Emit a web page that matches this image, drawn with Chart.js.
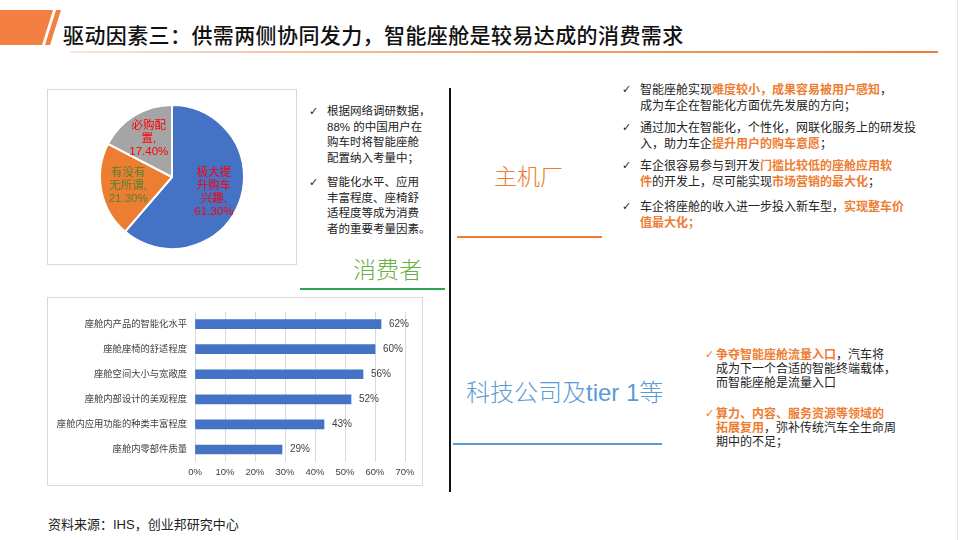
<!DOCTYPE html>
<html>
<head>
<meta charset="utf-8">
<script src="https://cdn.jsdelivr.net/npm/chart.js@4.4.1/dist/chart.umd.min.js"></script>
<style>
  html,body{margin:0;padding:0;background:#fff;}
  body{width:960px;height:540px;position:relative;overflow:hidden;
       font-family:"Liberation Sans","Noto Sans CJK SC",sans-serif;color:#222;}
  .abs{position:absolute;}
  .shape1{left:0;top:10px;width:60px;height:35px;background:#F47F43;
          clip-path:polygon(0 0,53px 0,42px 100%,0 100%);}
  .shape2{left:0;top:10px;width:70px;height:35px;background:#F47F43;
          clip-path:polygon(56px 0,61px 0,50px 100%,45px 100%);}
  .title{left:63px;top:22px;font-size:21px;letter-spacing:0.4px;line-height:28px;font-weight:500;color:#111;white-space:nowrap;}
  .tline{left:70px;top:51px;width:868px;height:2px;
         background:linear-gradient(to right,#FCE6D8,#F3A877 45%,#ED7D31);}
  .box{border:1px solid #D9D9D9;box-sizing:border-box;}
  .txt{white-space:nowrap;font-size:12px;color:#222;}
  .chk{font-family:"DejaVu Sans",sans-serif;font-size:11px;}
  .hl{color:#ED7D31;font-weight:bold;}
  .big{white-space:nowrap;font-weight:300;}
</style>
</head>
<body>
<div class="abs shape1"></div>
<div class="abs shape2"></div>
<div class="abs title">驱动因素三：供需两侧协同发力，智能座舱是较易达成的消费需求</div>
<div class="abs tline"></div>
<div class="abs" style="left:957px;top:0;width:1px;height:540px;background:#E6E6E6;"></div>

<!-- pie box -->
<div class="abs box" style="left:47px;top:89px;width:250px;height:176px;"></div>
<canvas id="pie" class="abs" style="left:48px;top:90px;" width="248" height="174"></canvas>

<!-- text right of pie -->
<div class="abs txt chk" style="left:309px;top:104px;line-height:15.7px;">✓</div>
<div class="abs txt" style="left:327px;top:104px;font-size:11.5px;line-height:15.7px;">根据网络调研数据，<br>88% 的中国用户在<br>购车时将智能座舱<br>配置纳入考量中；</div>
<div class="abs txt chk" style="left:309px;top:175px;line-height:15.7px;">✓</div>
<div class="abs txt" style="left:327px;top:175px;font-size:11.5px;line-height:15.7px;">智能化水平、应用<br>丰富程度、座椅舒<br>适程度等成为消费<br>者的重要考量因素。</div>

<!-- labels -->
<div class="abs big" style="left:353px;top:255px;font-size:23px;line-height:30px;color:#6AAE46;">消费者</div>
<div class="abs" style="left:300px;top:288px;width:145px;height:2px;background:#2EA350;"></div>

<div class="abs" style="left:449px;top:88px;width:2px;height:404px;background:#111;"></div>

<div class="abs big" style="left:494px;top:162px;font-size:23px;line-height:30px;color:#ED7D31;">主机厂</div>
<div class="abs" style="left:457px;top:236px;width:145px;height:2px;background:#ED7D31;"></div>

<div class="abs big" style="left:466px;top:378px;font-size:24px;line-height:30px;color:#5B9BD5;">科技公司及tier 1等</div>
<div class="abs" style="left:453px;top:443px;width:209px;height:2px;background:#5B9BD5;"></div>

<!-- bar box -->
<div class="abs box" style="left:47px;top:297px;width:376px;height:189px;"></div>
<canvas id="bar" class="abs" style="left:48px;top:298px;" width="374" height="187"></canvas>

<!-- right top -->
<div class="abs txt chk" style="left:622px;top:82px;line-height:16px;">✓</div>
<div class="abs txt" style="left:640px;top:82px;line-height:16px;">智能座舱实现<span class="hl">难度较小，成果容易被用户感知</span>，<br>成为车企在智能化方面优先发展的方向；</div>
<div class="abs txt chk" style="left:622px;top:120px;line-height:16px;">✓</div>
<div class="abs txt" style="left:640px;top:120px;line-height:16px;">通过加大在智能化，个性化，网联化服务上的研发投<br>入，助力车企<span class="hl">提升用户的购车意愿</span>；</div>
<div class="abs txt chk" style="left:622px;top:158px;line-height:16px;">✓</div>
<div class="abs txt" style="left:640px;top:158px;line-height:16px;">车企很容易参与到开发<span class="hl">门槛比较低的座舱应用软</span><br><span class="hl">件</span>的开发上，尽可能实现<span class="hl">市场营销的最大化</span>；</div>
<div class="abs txt chk" style="left:622px;top:199px;line-height:16px;">✓</div>
<div class="abs txt" style="left:640px;top:199px;line-height:16px;">车企将座舱的收入进一步投入新车型，<span class="hl">实现整车价</span><br><span class="hl">值最大化；</span></div>

<!-- right bottom -->
<div class="abs txt chk" style="left:705px;top:348px;line-height:14px;color:#ED7D31;">✓</div>
<div class="abs txt" style="left:716px;top:348px;line-height:14px;"><span class="hl">争夺智能座舱流量入口</span>，汽车将<br>成为下一个合适的智能终端载体，<br>而智能座舱是流量入口</div>
<div class="abs txt chk" style="left:705px;top:407px;line-height:14px;color:#ED7D31;">✓</div>
<div class="abs txt" style="left:716px;top:407px;line-height:14px;"><span class="hl">算力、内容、服务资源等领域的</span><br><span class="hl">拓展复用</span>，弥补传统汽车全生命周<br>期中的不足；</div>

<div class="abs txt" style="left:48px;top:516px;font-size:13px;line-height:18px;">资料来源：IHS，创业邦研究中心</div>

<script>
const FONT = '"Liberation Sans","Noto Sans CJK SC",sans-serif';

// ---- pie data ----
const pieCategories = ['极大提升购车兴趣', '有没有无所谓', '必购配置'];
const pieValues = [61.3, 21.3, 17.4];
const pieLabelLines = [['极大提', '升购车', '兴趣,'], ['有没有', '无所谓,'], ['必购配', '置,']];
const pieColors = ['#4472C4', '#ED7D31', '#A5A5A5'];
const pieLabelColors = ['#FF0000', '#548235', '#FF0000'];

// ---- bar data ----
const barCategories = ['座舱内产品的智能化水平', '座舱座椅的舒适程度', '座舱空间大小与宽敞度', '座舱内部设计的美观程度', '座舱内应用功能的种类丰富程度', '座舱内零部件质量'];
const barValues = [62, 60, 56, 52, 43, 29];
const barTicks = [0, 10, 20, 30, 40, 50, 60, 70];

const pieLabelPlugin = {
  id: 'pieLabels',
  afterDatasetsDraw(chart) {
    const ctx = chart.ctx;
    const meta = chart.getDatasetMeta(0);
    ctx.save();
    ctx.font = '11.5px ' + FONT;
    ctx.textAlign = 'center';
    ctx.textBaseline = 'middle';
    meta.data.forEach((arc, i) => {
      const p = arc.getProps(['x', 'y', 'startAngle', 'endAngle', 'outerRadius'], true);
      const mid = (p.startAngle + p.endAngle) / 2;
      const r = p.outerRadius * 0.62;
      const cx = p.x + Math.cos(mid) * r;
      const cy = p.y + Math.sin(mid) * r;
      const lines = pieLabelLines[i].concat([pieValues[i].toFixed(2) + '%']);
      const lh = 13;
      const y0 = cy - (lines.length - 1) * lh / 2;
      ctx.fillStyle = pieLabelColors[i];
      lines.forEach((t, k) => ctx.fillText(t, cx, y0 + k * lh));
    });
    ctx.restore();
  }
};

new Chart(document.getElementById('pie'), {
  type: 'pie',
  data: {
    labels: pieCategories,
    datasets: [{
      data: pieValues,
      backgroundColor: pieColors,
      borderColor: '#ffffff',
      borderWidth: 2,
      radius: 72
    }]
  },
  options: {
    responsive: false,
    animation: false,
    layout: { padding: 0 },
    plugins: { legend: { display: false }, tooltip: { enabled: false } }
  },
  plugins: [pieLabelPlugin]
});

const barLabelPlugin = {
  id: 'barLabels',
  afterDatasetsDraw(chart) {
    const ctx = chart.ctx;
    const meta = chart.getDatasetMeta(0);
    ctx.save();
    ctx.font = '10px ' + FONT;
    ctx.fillStyle = '#404040';
    ctx.textAlign = 'left';
    ctx.textBaseline = 'middle';
    meta.data.forEach((bar, i) => {
      ctx.fillText(barValues[i] + '%', bar.x + 8, bar.y);
    });
    ctx.restore();
  }
};

new Chart(document.getElementById('bar'), {
  type: 'bar',
  data: {
    labels: barCategories,
    datasets: [{
      data: barValues,
      backgroundColor: '#4472C4',
      barThickness: 9
    }]
  },
  options: {
    indexAxis: 'y',
    responsive: false,
    animation: false,
    layout: { padding: { top: 12, right: 17, left: 0, bottom: 0 } },
    plugins: { legend: { display: false }, tooltip: { enabled: false } },
    scales: {
      x: {
        min: barTicks[0],
        max: barTicks[barTicks.length - 1],
        afterBuildTicks: (s) => { s.ticks = barTicks.map(v => ({ value: v })); },
        afterFit: (s) => { s.height = 23; },
        grid: { color: '#D9D9D9', lineWidth: 1, drawTicks: false },
        border: { display: false },
        ticks: {
          padding: 5,
          color: '#404040',
          font: { family: FONT, size: 9.5 },
          callback: (v) => v + '%'
        }
      },
      y: {
        afterFit: (s) => { s.width = 147; },
        grid: { display: false, drawTicks: false },
        border: { display: false },
        ticks: {
          padding: 8,
          color: '#404040',
          font: { family: FONT, size: 9.3 }
        }
      }
    }
  },
  plugins: [barLabelPlugin]
});
</script>
</body>
</html>
